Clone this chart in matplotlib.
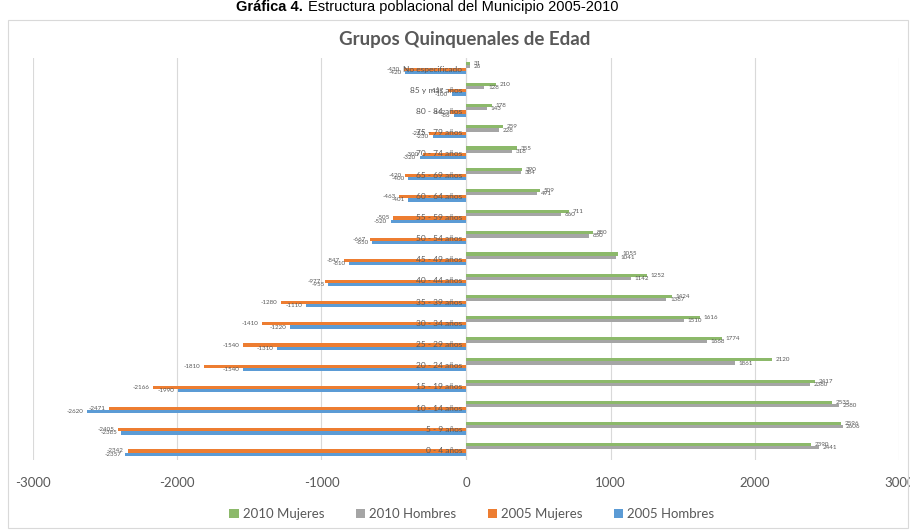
import matplotlib
matplotlib.use("Agg")
import matplotlib.pyplot as plt
from matplotlib.patches import Rectangle
import numpy as np

categorias = ['0 - 4 años', '5 - 9 años', '10 - 14 años', '15 - 19 años', '20 - 24 años',
              '25 - 29 años', '30 - 34 años', '35 - 39 años', '40 - 44 años', '45 - 49 años',
              '50 - 54 años', '55 - 59 años', '60 - 64 años', '65 - 69 años', '70 - 74 años',
              '75 - 79 años', '80 - 84 años', '85 y más años', 'No especificado']

mujeres_2010 = [2390, 2596, 2535, 2417, 2120, 1774, 1616, 1424, 1252, 1055, 880, 711, 509, 390, 355, 259, 178, 210, 31]
hombres_2010 = [2441, 2606, 2580, 2380, 1861, 1668, 1510, 1387, 1142, 1041, 850, 660, 491, 384, 318, 228, 143, 128, 26]
mujeres_2005 = [-2342, -2405, -2471, -2166, -1810, -1540, -1410, -1280, -977, -847, -667, -505, -463, -420, -300, -257, -112, -127, -430]
hombres_2005 = [-2357, -2385, -2620, -1990, -1540, -1310, -1220, -1110, -955, -810, -650, -520, -401, -400, -320, -230, -86, -100, -420]

series = ['2010 Mujeres', '2010 Hombres', '2005 Mujeres', '2005 Hombres']
colores = ['#8cb96a', '#a5a5a5', '#ed7d31', '#5b9bd5']
ticks = [-3000, -2000, -1000, 0, 1000, 2000, 3000]

plt.rcParams['font.family'] = ['Lato', 'DejaVu Sans']
gris = '#595959'

fig = plt.figure(figsize=(9.1, 5.31), dpi=100)
ax = fig.add_axes([32.5 / 910, 1 - 460 / 531, 867 / 910, 402.5 / 531])

y = np.arange(len(categorias))
h = 0.15
datos = [mujeres_2010, hombres_2010, mujeres_2005, hombres_2005]
offs = [0.225, 0.075, -0.075, -0.225]
for vals, c, off, nom in zip(datos, colores, offs, series):
    ax.barh(y + off, vals, height=h, color=c, label=nom, zorder=3)
    for yi, v in zip(y, vals):
        if v >= 0:
            ax.text(v + 25, yi + off, str(v), fontsize=4.5, color=gris, ha='left', va='center')
        else:
            ax.text(v - 25, yi + off, str(v), fontsize=4.5, color=gris, ha='right', va='center')

for yi, cat in zip(y, categorias):
    ax.text(-25, yi - 0.05, cat, fontsize=6, color=gris, ha='right', va='center', zorder=4)

ax.set_xlim(-3000, 3000)
ax.set_ylim(-0.5, len(categorias) - 0.5)
ax.set_xticks(ticks)
ax.set_xticklabels([str(t) for t in ticks], fontsize=9.5, color=gris)
ax.set_yticks([])
ax.tick_params(axis='x', length=0, pad=12)
ax.grid(axis='x', color='#d9d9d9', linewidth=0.8, zorder=0)
for s in ax.spines.values():
    s.set_visible(False)
ax.axvline(0, color='#d9d9d9', linewidth=0.8, zorder=1)

fig.text(303 / 910, 1 - 11 / 531, 'Gráfica 4.', fontsize=10.5, fontweight='bold',
         family='Liberation Sans', ha='right', va='baseline')
fig.text(308 / 910, 1 - 11 / 531, 'Estructura poblacional del Municipio 2005-2010', fontsize=10.5,
         family='Liberation Sans', ha='left', va='baseline')
fig.text(465 / 910, 1 - 40 / 531, 'Grupos Quinquenales de Edad', fontsize=13.5, fontweight='bold',
         color=gris, ha='center', va='center')

fig.patches.append(Rectangle((8 / 910, 3 / 531), 900 / 910, 508 / 531, transform=fig.transFigure,
                             fill=False, edgecolor='#d9d9d9', linewidth=0.8))

fig.legend(loc='center', bbox_to_anchor=(472 / 910, 1 - 514 / 531), ncol=4, frameon=False,
           fontsize=9.5, labelcolor=gris, handlelength=0.7, handleheight=0.7,
           handletextpad=0.3, columnspacing=2.4)

fig.savefig('out.png', dpi=100)
